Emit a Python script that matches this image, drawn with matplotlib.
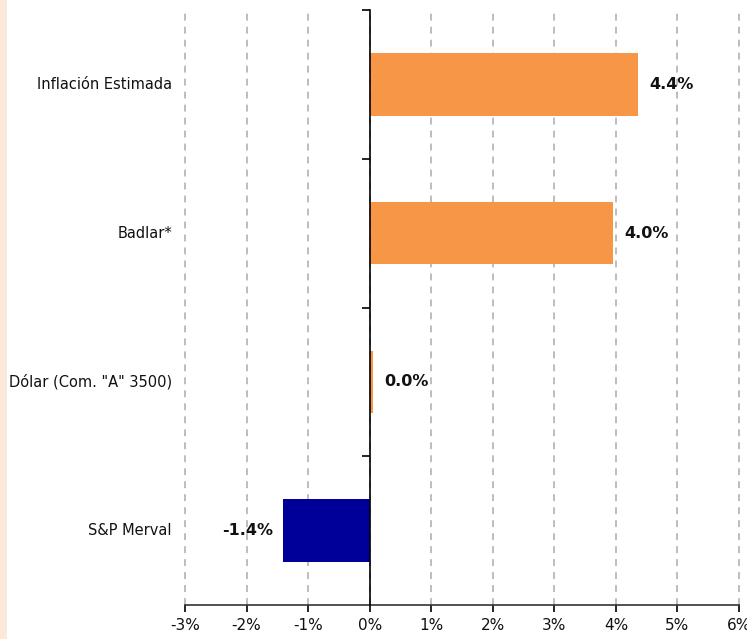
import matplotlib.pyplot as plt
from matplotlib.patches import Rectangle
import matplotlib.transforms as mtransforms

# datos (de abajo hacia arriba)
categorias = ["S&P Merval", 'Dólar (Com. "A" 3500)', "Badlar*", "Inflación Estimada"]
valores = [-1.41, 0.05, 3.95, 4.36]
etiquetas = ["-1.4%", "0.0%", "4.0%", "4.4%"]
colores = ["#000099", "#F79646", "#F79646", "#F79646"]
xticks = [-3, -2, -1, 0, 1, 2, 3, 4, 5, 6]

fig = plt.figure(figsize=(7.47, 6.39), dpi=100)
fig.patches.append(Rectangle((0, 0), 7 / 747, 1, transform=fig.transFigure,
                             facecolor="#FDE9D9", edgecolor="none", zorder=0))

ax = fig.add_axes([185 / 747, 1 - 605 / 639, (739 - 185) / 747, 595 / 639])

pos = list(range(len(categorias)))
ax.barh(pos, valores, height=0.42, color=colores, zorder=3)

ax.set_xlim(-3, 6)
ax.set_ylim(-0.5, 3.5)
ax.set_xticks(xticks)
ax.set_xticklabels([f"{t}%" for t in xticks], fontsize=11, color="#111111",
                   family="DejaVu Sans Condensed")
ax.tick_params(axis="x", direction="out", length=5, width=1.2, pad=4)

ax.set_yticks([])
ax.set_yticks([0.5, 1.5, 2.5, 3.5], minor=True)
ax.tick_params(axis="y", which="minor", direction="out", length=6, width=1.2)
ax.spines["left"].set_position(("data", 0))
ax.spines["left"].set_linewidth(1.2)
ax.spines["left"].set_zorder(4)
ax.spines["bottom"].set_linewidth(1.2)
ax.spines["bottom"].set_color("#333333")
ax.spines["top"].set_visible(False)
ax.spines["right"].set_visible(False)

# lineas de division verticales discontinuas
for t in xticks:
    ax.axvline(t, color="#ABABAB", linestyle=(0, (4.5, 4)), linewidth=1.1,
               zorder=0, clip_on=False)

# nombres de categorias a la izquierda del area de trazado
trans = mtransforms.blended_transform_factory(ax.transAxes, ax.transData)
for p, c in zip(pos, categorias):
    ax.text(-13 / 554, p, c, transform=trans, ha="right", va="center",
            fontsize=10.5, color="#111111", family="DejaVu Sans Condensed")

for p, v, e in zip(pos, valores, etiquetas):
    if v >= 0:
        ax.text(v + 0.19, p, e, ha="left", va="center", fontsize=11.5,
                fontweight="bold", color="#111111")
    else:
        ax.text(v - 0.16, p, e, ha="right", va="center", fontsize=11.5,
                fontweight="bold", color="#111111")

fig.savefig("out.png", dpi=100, facecolor="white")
